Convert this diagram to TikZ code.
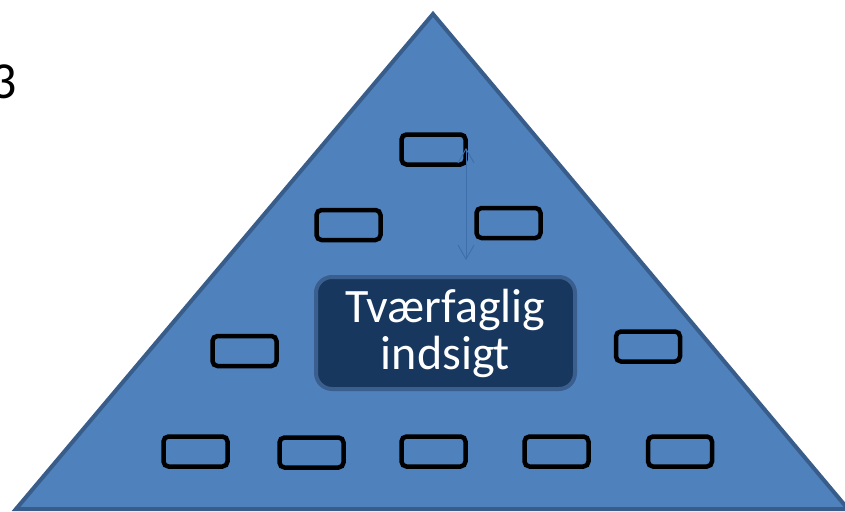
\documentclass[tikz,border=0pt]{standalone}
\usepackage{fontspec}
\setmainfont{Carlito}
\usetikzlibrary{arrows.meta}
\definecolor{trifill}{HTML}{4F81BD}
\definecolor{triedge}{HTML}{385D8A}
\definecolor{boxfill}{HTML}{17375E}
\definecolor{boxedge}{HTML}{3A5F8E}
\definecolor{arrowcol}{HTML}{3F6FAA}
\tikzset{
  smallbox/.style={draw=black, line width=4.5pt, rounded corners=5pt, minimum width=64pt, minimum height=30pt, inner sep=0pt},
  centerbox/.style={draw=boxedge, fill=boxfill, line width=4pt, rounded corners=16pt, minimum width=259pt, minimum height=112pt, inner sep=0pt, text=white, align=center, font=\fontsize{48pt}{47pt}\selectfont},
  connector/.style={draw=arrowcol, line width=0.9pt, {Straight Barb[length=14pt,width=16pt]}-{Straight Barb[length=14pt,width=16pt]}}
}
\begin{document}
\begin{tikzpicture}[x=1pt,y=-1pt]
\useasboundingbox (0,0) rectangle (845,511);
\fill[white] (0,0) rectangle (845,511);
\node[anchor=base west, inner sep=0pt, font=\fontsize{52pt}{60pt}\selectfont] (num) at (-10,98) {3};
\draw[triedge, fill=trifill, line width=4pt, line join=miter] (433,14) -- (848,509) -- (16,509) -- cycle;
\node[smallbox] (b1) at (433.5,149.5) {};
\node[smallbox] (b2) at (348.5,225) {};
\node[smallbox] (b3) at (508.5,223) {};
\node[smallbox] (b4) at (244.5,351) {};
\node[smallbox] (b5) at (648,346.5) {};
\node[smallbox] (b6) at (195.5,451.5) {};
\node[smallbox] (b7) at (311.5,452.5) {};
\node[smallbox] (b8) at (433.5,451.5) {};
\node[smallbox] (b9) at (556.5,451.5) {};
\node[smallbox] (b10) at (680,451.5) {};
\node[centerbox] (c) at (445.5,333) {Tværfaglig\\indsigt};
\coordinate (a1) at (466,148);
\coordinate (a2) at (466,260);
\draw[connector] (a1) -- (a2);
\end{tikzpicture}
\end{document}
